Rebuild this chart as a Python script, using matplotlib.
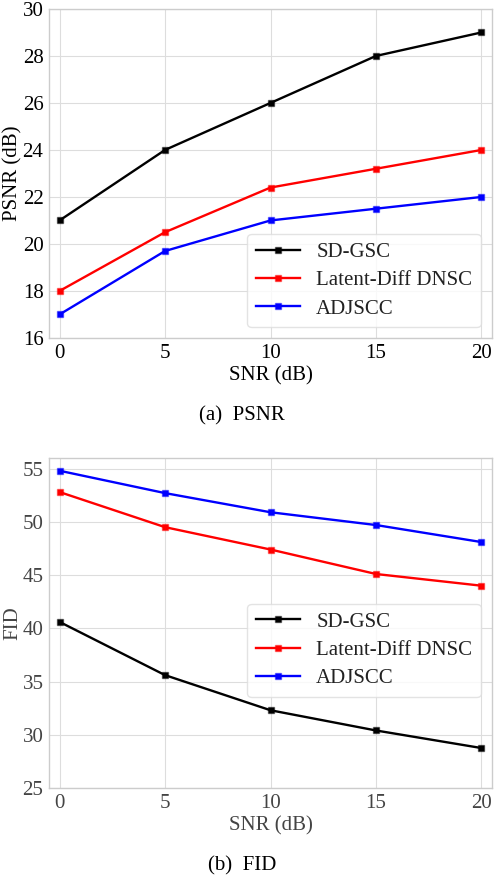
import matplotlib
matplotlib.use("Agg")
import matplotlib.pyplot as plt
from matplotlib.colors import to_rgba

snr = [0, 5, 10, 15, 20]
methods = ["SD-GSC", "Latent-Diff DNSC", "ADJSCC"]
colors = ["black", "red", "blue"]

psnr_sd = [21.0, 24.0, 26.0, 28.0, 29.0]
psnr_latent = [18.0, 20.5, 22.4, 23.2, 24.0]
psnr_adj = [17.0, 19.7, 21.0, 21.5, 22.0]

fid_sd = [40.6, 35.6, 32.3, 30.4, 28.75]
fid_latent = [52.8, 49.5, 47.4, 45.1, 44.0]
fid_adj = [54.8, 52.7, 50.9, 49.7, 48.1]

plt.rcParams['font.family'] = ['Liberation Serif', 'DejaVu Serif']
plt.rcParams['font.size'] = 15

fig = plt.figure(figsize=(4.94, 8.76), dpi=100)
ax1 = fig.add_axes([0.0992, 0.6142, 0.8968, 0.3756])
ax2 = fig.add_axes([0.0992, 0.1005, 0.8968, 0.3767])


def draw(ax, series, ylim, yticks, ylabel, txtcolor, legloc, anchor):
    for vals, name, c in zip(series, methods, colors):
        ax.plot(snr, vals, color=c, lw=1.7, marker='s', markersize=5,
                markeredgecolor=to_rgba(c, 0.45), markeredgewidth=1.0,
                label=name)
    ax.set_xlim(-0.5, 20.5)
    ax.set_ylim(*ylim)
    ax.set_xticks(snr)
    ax.set_yticks(yticks)
    ax.grid(True, color='#dddddd', lw=0.8)
    ax.set_axisbelow(True)
    for s in ax.spines.values():
        s.set_color('#cccccc')
        s.set_linewidth(1.0)
    ax.tick_params(length=0, pad=4, colors=txtcolor, labelsize=15)
    ax.set_xlabel("SNR (dB)", fontsize=15, color=txtcolor, labelpad=3)
    ax.set_ylabel(ylabel, fontsize=15, color=txtcolor, labelpad=0)
    leg = ax.legend(loc=legloc, bbox_to_anchor=anchor, fontsize=15,
                    handlelength=2.1, handletextpad=0.8, labelspacing=0.42,
                    borderpad=0.4, borderaxespad=0, fancybox=True,
                    framealpha=0.8, edgecolor='#dddddd')
    for t in leg.get_texts():
        t.set_color('#222222')


draw(ax1, [psnr_sd, psnr_latent, psnr_adj], (16, 30), [16, 18, 20, 22, 24, 26, 28, 30],
     "PSNR (dB)", 'black', 'lower right', (0.974, 0.033))
draw(ax2, [fid_sd, fid_latent, fid_adj], (25, 56), [25, 30, 35, 40, 45, 50, 55],
     "FID", '#444444', 'upper right', (0.974, 0.558))

fig.text(0.49, 1 - 416 / 876, "(a)  PSNR", ha='center', va='center', fontsize=15)
fig.text(0.49, 1 - 866 / 876, "(b)  FID", ha='center', va='center', fontsize=15)

fig.savefig("out.png", dpi=100)
